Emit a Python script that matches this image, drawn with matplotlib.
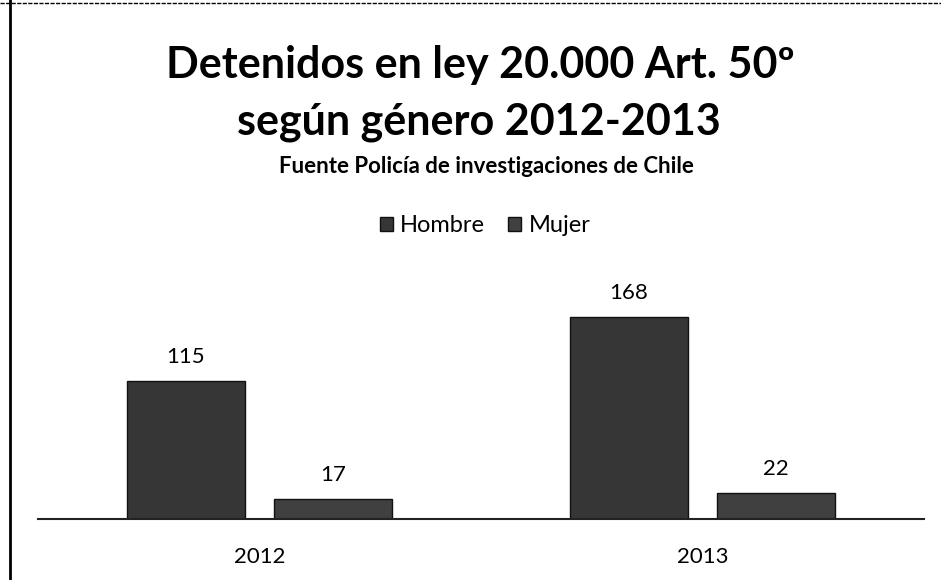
import numpy as np
import matplotlib.pyplot as plt

# data
years = ["2012", "2013"]
hombre = [115, 168]
mujer = [17, 22]
series_names = ["Hombre", "Mujer"]

plt.rcParams['font.family'] = ['Lato', 'DejaVu Sans']

fig = plt.figure(figsize=(9.41, 5.8), dpi=100)
ax = fig.add_axes([38/941, 1 - 519/580, 886/941, 259/580])

x = np.arange(len(years))
w = 0.266
off = 0.166
b1 = ax.bar(x - off, hombre, w, color="#363636", edgecolor="#111111", lw=1, label=series_names[0])
b2 = ax.bar(x + off, mujer, w, color="#404040", edgecolor="#111111", lw=1, label=series_names[1])

for bars in (b1, b2):
    for r in bars:
        ax.annotate(f"{int(r.get_height())}", (r.get_x() + r.get_width()/2, r.get_height()),
                    xytext=(0, 13), textcoords="offset points",
                    ha="center", va="baseline", fontsize=16, color="black")

ax.set_xlim(-0.5, 1.5)
ax.set_ylim(0, 259/1.2)
ax.set_xticks(x)
ax.set_xticklabels(years, fontsize=16)
ax.tick_params(axis="x", length=0, pad=20)
ax.set_yticks([])
for s in ["top", "right", "left"]:
    ax.spines[s].set_visible(False)
ax.spines["bottom"].set_color("#222222")
ax.spines["bottom"].set_linewidth(1.5)

# titles
fig.text(480/941, 1 - 78/580, "Detenidos en ley 20.000 Art. 50º", ha="center", va="baseline",
         fontsize=31, fontweight="bold")
fig.text(479/941, 1 - 135/580, "según género 2012-2013", ha="center", va="baseline",
         fontsize=31, fontweight="bold")
fig.text(486/941, 1 - 173/580, "Fuente Policía de investigaciones de Chile", ha="center", va="baseline",
         fontsize=16, fontweight="bold")

fig.legend(handles=[b1, b2], labels=series_names, loc="center", bbox_to_anchor=(485/941, 1 - 226/580),
           ncol=2, frameon=False, fontsize=17, handlelength=0.55, handleheight=0.55,
           handletextpad=0.3, columnspacing=1.0, borderpad=0)

# scan frame
fig.add_artist(plt.Line2D([10/941, 10/941], [0, 1], transform=fig.transFigure, color="black", lw=2))
fig.add_artist(plt.Line2D([0, 1], [1 - 3/580, 1 - 3/580], transform=fig.transFigure,
                          color="black", lw=1, ls=(0, (3, 1))))

fig.savefig("out.png", dpi=100)
